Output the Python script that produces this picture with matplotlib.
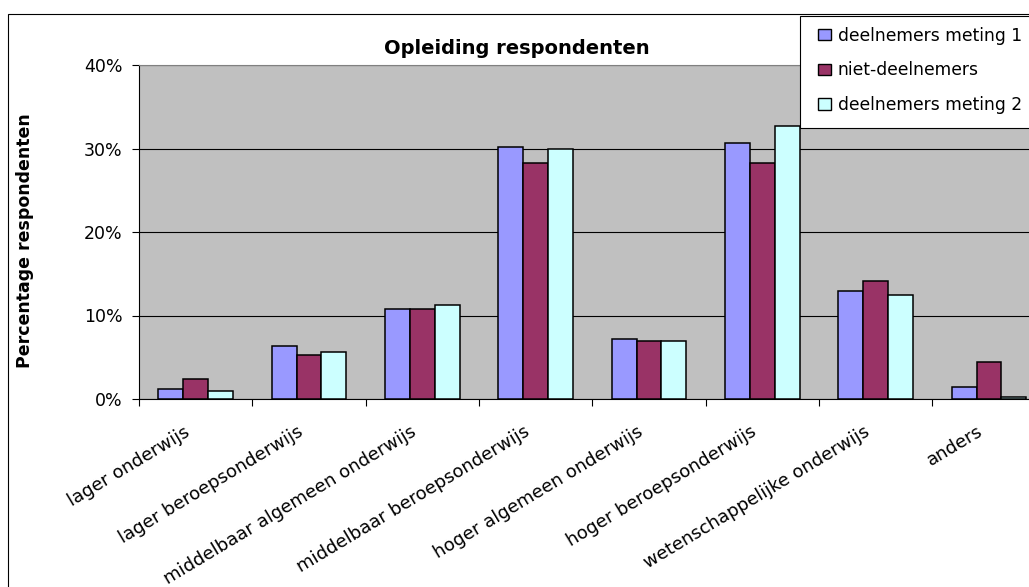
import matplotlib
matplotlib.use('Agg')
import matplotlib.pyplot as plt
import matplotlib.transforms as mtransforms
from matplotlib.patches import Patch, Rectangle
from matplotlib.ticker import FuncFormatter
import numpy as np

# gegevens (percentages)
categorieen = ['lager onderwijs', 'lager beroepsonderwijs',
               'middelbaar algemeen onderwijs', 'middelbaar beroepsonderwijs',
               'hoger algemeen onderwijs', 'hoger beroepsonderwijs',
               'wetenschappelijke onderwijs', 'anders']
meting_1 = [1.2, 6.3, 10.8, 30.2, 7.2, 30.7, 12.9, 1.4]
niet_deelnemers = [2.4, 5.3, 10.8, 28.3, 6.9, 28.3, 14.1, 4.4]
meting_2 = [1.0, 5.6, 11.3, 30.0, 6.9, 32.7, 12.5, 0.2]

reeks_namen = ['deelnemers meting 1', 'niet-deelnemers', 'deelnemers meting 2']
kleuren = ['#9999FF', '#993366', '#CCFFFF']

plt.rcParams['font.family'] = 'DejaVu Sans'

W, H = 1029, 587
fig = plt.figure(figsize=(W / 100, H / 100), dpi=100)

# buitenrand van de grafiek
fig.patches.append(Rectangle((8 / W, -0.1), 1.2, (H - 14) / H + 0.1,
                             transform=fig.transFigure, fill=False,
                             edgecolor='black', linewidth=0.8))

ax = fig.add_axes([139 / W, (H - 399) / H, 906.7 / W, 334 / H])
ax.set_facecolor('#C0C0C0')

x = np.arange(len(categorieen))
breedte = 0.22
for i, (waarden, kleur) in enumerate(zip([meting_1, niet_deelnemers, meting_2], kleuren)):
    ax.bar(x + (i - 1) * breedte, waarden, breedte, color=kleur,
           edgecolor='black', linewidth=1.1, zorder=3)

ax.set_xlim(-0.5, len(categorieen) - 0.5)
ax.set_ylim(0, 40)
ax.set_yticks([0, 10, 20, 30, 40])
ax.yaxis.set_major_formatter(FuncFormatter(lambda v, p: f'{v:.0f}%'))
ax.grid(axis='y', color='black', linewidth=0.8, zorder=1)
ax.set_axisbelow(True)

ax.set_xticks(x)
ax.set_xticklabels(categorieen, rotation=31, ha='right', va='top',
                   rotation_mode='anchor', fontsize=13)
ax.set_xticks(np.arange(-0.5, len(categorieen)), minor=True)
ax.tick_params(axis='x', which='major', length=0, pad=17)
ax.tick_params(axis='x', which='minor', length=5, width=0.8, direction='out')
ax.tick_params(axis='y', length=5, width=0.8, direction='out', pad=7, labelsize=12.5)

verschuiving = mtransforms.ScaledTranslation(-12 / 100, 0, fig.dpi_scale_trans)
for lbl in ax.get_xticklabels():
    lbl.set_transform(lbl.get_transform() + verschuiving)

for kant in ['left', 'bottom']:
    ax.spines[kant].set_color('black')
    ax.spines[kant].set_linewidth(0.8)
ax.spines['top'].set_color('#808080')
ax.spines['right'].set_visible(False)

fig.text(517 / W, 1 - 48 / H, 'Opleiding respondenten', ha='center', va='center',
         fontsize=14, fontweight='bold')
fig.text(25 / W, 1 - 241 / H, 'Percentage respondenten', ha='center', va='center',
         rotation=90, fontsize=12.5, fontweight='bold')

# legenda: kader apart getekend, loopt rechts buiten beeld
fig.patches.append(Rectangle((800 / W, 1 - 128 / H), 0.3, 112 / H,
                             transform=fig.transFigure, facecolor='white',
                             edgecolor='black', linewidth=0.8, zorder=5))
handles = [Patch(facecolor=k, edgecolor='black', linewidth=1.0) for k in kleuren]
leg = fig.legend(handles, reeks_namen, loc='upper left',
                 bbox_to_anchor=(809 / W, 1 - 18 / H), fontsize=12.3,
                 frameon=False, handlelength=0.8, handleheight=0.65,
                 handletextpad=0.37, labelspacing=0.98, borderpad=0.5,
                 borderaxespad=0)
leg.set_zorder(6)

fig.savefig('out.png', dpi=100)
